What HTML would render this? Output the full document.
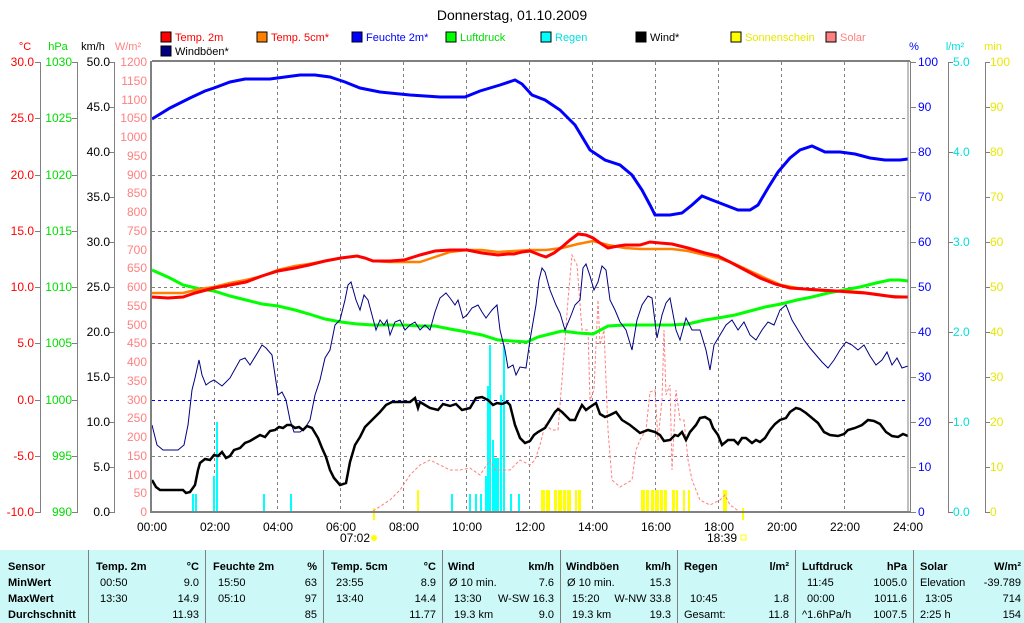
<!DOCTYPE html>
<html><head><meta charset="utf-8"><style>
html,body{margin:0;padding:0;background:#fff;width:1024px;height:623px;overflow:hidden}
svg{display:block;font-family:"Liberation Sans",sans-serif}
</style></head><body>
<svg width="1024" height="623" viewBox="0 0 1024 623" xmlns="http://www.w3.org/2000/svg">
<text x="512" y="20" font-size="14" text-anchor="middle">Donnerstag, 01.10.2009</text>
<g font-size="11">
<rect x="161" y="32" width="10" height="10" fill="#ff0000" stroke="#000"/><text x="175" y="41" fill="#ff0000">Temp. 2m</text>
<rect x="257" y="32" width="10" height="10" fill="#ff8000" stroke="#000"/><text x="271" y="41" fill="#ff0000">Temp. 5cm*</text>
<rect x="352" y="32" width="10" height="10" fill="#0000ff" stroke="#000"/><text x="366" y="41" fill="#0000ff">Feuchte 2m*</text>
<rect x="446" y="32" width="10" height="10" fill="#00ff00" stroke="#000"/><text x="460" y="41" fill="#00dd00">Luftdruck</text>
<rect x="541" y="32" width="10" height="10" fill="#00ffff" stroke="#000"/><text x="555" y="41" fill="#00e0e0">Regen</text>
<rect x="636" y="32" width="10" height="10" fill="#000" stroke="#000"/><text x="650" y="41" fill="#000">Wind*</text>
<rect x="731" y="32" width="10" height="10" fill="#ffff00" stroke="#000"/><text x="745" y="41" fill="#e8e800">Sonnenschein</text>
<rect x="826" y="32" width="10" height="10" fill="#ff8080" stroke="#000"/><text x="840" y="41" fill="#ff8080">Solar</text>
<rect x="161" y="46" width="10" height="10" fill="#000080" stroke="#000"/><text x="175" y="55" fill="#000">Windböen*</text>
</g>
<g font-size="11">
<text x="25" y="50" fill="#ff0000" text-anchor="middle">°C</text>
<text x="58" y="50" fill="#00dd00" text-anchor="middle">hPa</text>
<text x="93" y="50" fill="#000" text-anchor="middle">km/h</text>
<text x="128" y="50" fill="#ff8080" text-anchor="middle">W/m²</text>
<text x="914" y="50" fill="#0000ff" text-anchor="middle">%</text>
<text x="955" y="50" fill="#00e0e0" text-anchor="middle">l/m²</text>
<text x="993" y="50" fill="#e8e800" text-anchor="middle">min</text>
</g>
<g stroke="#808080" stroke-width="1">
<line x1="40.5" y1="62" x2="40.5" y2="512"/>
<line x1="77.5" y1="62" x2="77.5" y2="512"/>
<line x1="114.5" y1="62" x2="114.5" y2="512"/>
<line x1="948.5" y1="62" x2="948.5" y2="512"/>
<line x1="985.5" y1="62" x2="985.5" y2="512"/>
</g>
<g id="ticks" stroke="#808080"></g>
<g id="labels" font-size="12"></g>
<g stroke="#808080" stroke-dasharray="3,3" stroke-width="1">
<line x1="152" y1="118.5" x2="908" y2="118.5"/><line x1="152" y1="175.5" x2="908" y2="175.5"/>
<line x1="152" y1="231.5" x2="908" y2="231.5"/><line x1="152" y1="287.5" x2="908" y2="287.5"/>
<line x1="152" y1="343.5" x2="908" y2="343.5"/><line x1="152" y1="456.5" x2="908" y2="456.5"/>
<line x1="214.5" y1="62" x2="214.5" y2="512"/><line x1="277.5" y1="62" x2="277.5" y2="512"/>
<line x1="340.5" y1="62" x2="340.5" y2="512"/><line x1="403.5" y1="62" x2="403.5" y2="512"/>
<line x1="466.5" y1="62" x2="466.5" y2="512"/><line x1="529.5" y1="62" x2="529.5" y2="512"/>
<line x1="592.5" y1="62" x2="592.5" y2="512"/><line x1="655.5" y1="62" x2="655.5" y2="512"/>
<line x1="718.5" y1="62" x2="718.5" y2="512"/><line x1="781.5" y1="62" x2="781.5" y2="512"/>
<line x1="844.5" y1="62" x2="844.5" y2="512"/>
</g>
<line x1="152" y1="400.5" x2="908" y2="400.5" stroke="#0000ff" stroke-dasharray="3,3"/>
<g fill="#00ffff">
<rect x="192" y="494" width="2" height="18"/><rect x="195" y="494" width="2" height="18"/>
<rect x="213" y="476" width="2" height="36"/><rect x="216" y="422" width="2" height="90"/>
<rect x="263" y="494" width="2" height="18"/><rect x="290" y="494" width="2" height="18"/>
<rect x="451" y="494" width="2" height="18"/><rect x="469" y="494" width="2" height="18"/>
<rect x="475" y="494" width="2" height="18"/><rect x="480" y="494" width="2" height="18"/>
<rect x="485" y="476" width="2" height="36"/><rect x="487" y="386" width="2" height="126"/>
<rect x="489" y="345" width="2" height="167"/><rect x="492" y="440" width="2" height="72"/>
<rect x="494" y="458" width="3" height="54"/><rect x="497" y="458" width="2" height="54"/>
<rect x="500" y="395" width="2" height="117"/><rect x="503" y="345" width="2" height="167"/>
<rect x="510" y="494" width="2" height="18"/><rect x="518" y="494" width="2" height="18"/>
</g>
<g fill="#ffff00">
<rect x="373" y="508" width="2" height="12"/><rect x="417" y="490" width="2" height="22"/>
<rect x="541" y="490" width="4" height="22"/><rect x="546" y="490" width="4" height="22"/>
<rect x="554" y="490" width="3" height="22"/><rect x="558" y="490" width="4" height="22"/>
<rect x="563" y="490" width="3" height="22"/><rect x="567" y="490" width="4" height="22"/>
<rect x="575" y="490" width="2" height="22"/><rect x="578" y="490" width="3" height="22"/>
<rect x="641" y="490" width="4" height="22"/><rect x="646" y="490" width="3" height="22"/>
<rect x="651" y="490" width="3" height="22"/><rect x="655" y="490" width="4" height="22"/>
<rect x="660" y="490" width="3" height="22"/><rect x="664" y="490" width="3" height="22"/>
<rect x="672" y="490" width="3" height="22"/><rect x="676" y="490" width="2" height="22"/>
<rect x="683" y="490" width="2" height="22"/><rect x="688" y="490" width="2" height="22"/>
<rect x="723" y="490" width="4" height="22"/><rect x="742" y="508" width="2" height="12"/>
</g>
<polyline fill="none" stroke="#ff8080" stroke-width="1" stroke-dasharray="3,2" points="373,511 390,500 400,490 410,475 420,465 430,460 440,465 450,470 460,470 470,468 480,475 490,460 495,470 510,470 520,460 530,465 535,460 540,445 545,425 552,430 558,430 562,380 568,300 572,255 577,265 582,330 588,330 590,400 594,390 598,300 600,345 604,330 608,430 612,480 620,487 632,480 636,450 640,440 646,430 650,392 655,390 658,440 662,400 664,330 666,395 670,385 672,470 676,390 680,420 684,420 688,460 692,480 700,500 710,505 720,500 725,495 730,505 740,512"/>
<polyline fill="none" stroke="#0000ff" stroke-width="3" points="152,119 170,108 190,98 205,91 214,88 230,82 245,79 270,79 285,77 300,75 315,75 330,77 345,82 360,88 380,92 410,95 440,97 465,97 480,91 500,85 515,80 522,84 532,95 545,100 560,110 575,125 590,150 605,160 620,165 632,175 642,190 650,205 655,215 670,215 682,213 692,205 702,196 712,200 725,205 738,210 750,210 758,205 768,188 778,172 790,158 800,150 812,146 825,152 840,152 855,154 870,158 885,160 900,160 908,159"/>
<polyline fill="none" stroke="#00ff00" stroke-width="3" points="152,270 170,278 183,285 200,289 214,291 230,296 246,300 262,304 278,306 295,310 309,314 325,319 341,322 357,324 373,325 390,325 404,325 420,326 435,326 450,329 467,332 482,335 498,340 512,341 527,342 538,337 550,334 562,331 578,333 593,334 608,326 625,325 640,325 656,325 672,325 688,324 705,320 718,318 735,315 750,311 765,307 781,304 797,300 812,297 828,293 844,290 860,287 876,283 890,280 900,280 908,281"/>
<polyline fill="none" stroke="#ff8000" stroke-width="2.5" points="152,293 183,293 200,289 214,287 230,283 246,280 262,276 278,270 295,266 309,264 325,261 341,258 357,256 365,258 373,261 390,262 404,262 420,262 435,257 450,252 467,250 482,250 498,252 514,251 530,250 546,250 562,248 578,244 593,241 608,245 625,248 640,249 656,249 672,249 688,251 705,255 718,258 735,264 750,271 765,278 781,285 797,288 812,290 828,291 844,291 860,292 876,294 890,296 908,297"/>
<polyline fill="none" stroke="#ff0000" stroke-width="3" points="152,297 168,298 183,297 195,293 214,288 230,285 246,282 262,276 278,271 295,268 309,265 325,261 341,258 357,256 365,258 373,261 390,261 404,260 420,255 435,251 450,250 467,250 482,253 498,255 508,254 514,254 522,252 530,251 540,255 546,257 554,253 562,247 570,240 578,234 586,235 593,238 600,243 608,248 618,246 625,245 640,245 650,242 660,243 672,244 688,248 705,253 718,256 730,262 745,270 760,278 775,284 790,288 805,289 820,290 836,291 850,292 865,293 880,295 895,297 908,297"/>
<polyline fill="none" stroke="#000080" stroke-width="1" points="152,425 157,445 163,450 170,450 178,450 184,445 188,425 192,390 195,378 199,360 202,375 206,385 210,382 214,380 218,383 222,386 230,378 240,360 245,358 250,365 258,352 262,345 266,348 272,355 278,395 282,392 286,400 290,420 294,432 300,432 305,428 310,420 315,395 320,380 325,358 330,350 335,325 340,320 345,300 348,285 351,282 356,300 360,310 364,295 368,300 372,315 376,330 380,320 384,325 387,320 390,335 395,322 400,320 405,330 410,325 415,322 420,330 425,325 430,330 435,312 440,298 446,293 450,298 455,305 458,300 463,318 467,315 472,308 478,305 482,312 486,318 492,310 497,305 500,330 505,350 508,368 513,365 516,375 520,367 526,368 530,340 536,305 539,280 542,268 545,272 550,290 556,305 560,313 565,330 570,318 575,305 580,300 583,268 586,264 590,276 594,290 598,282 602,266 606,270 610,300 615,310 620,322 626,330 632,350 637,320 642,305 648,296 652,298 657,338 662,315 666,303 670,298 676,330 680,340 686,318 692,330 700,330 706,350 710,370 714,345 720,335 726,325 732,320 738,330 744,322 750,335 756,340 762,330 768,322 774,325 780,310 786,305 792,320 798,330 804,340 810,348 816,355 822,362 828,368 834,360 840,350 846,342 852,345 858,350 864,345 870,356 876,365 882,360 887,352 892,365 897,358 902,368 908,366"/>
<polyline fill="none" stroke="#000" stroke-width="2.5" points="152,480 156,487 160,490 175,490 183,490 186,493 190,492 195,485 198,470 200,463 205,459 210,460 214,455 218,456 222,452 226,458 230,456 234,450 240,448 245,443 250,441 255,438 260,435 265,437 270,431 275,430 279,427 283,428 287,425 291,425 295,428 299,427 303,430 307,426 312,428 318,438 322,448 326,457 330,470 334,478 340,485 346,483 350,462 355,445 360,437 365,427 372,420 380,412 386,405 392,402 400,402 410,402 415,398 418,408 420,402 425,405 430,408 438,410 443,404 450,406 456,404 462,410 470,408 476,398 482,397 488,400 493,405 497,403 502,404 507,402 510,405 515,425 520,438 525,443 530,441 534,435 538,432 545,428 550,420 555,412 558,409 562,412 567,417 570,420 575,420 578,413 582,405 586,410 590,407 596,403 600,414 605,417 610,415 616,412 622,420 630,425 640,433 648,430 655,432 660,435 664,441 670,440 675,435 678,436 682,432 686,440 690,432 696,425 700,418 705,417 710,420 713,428 718,435 722,445 728,440 734,440 738,444 742,438 746,438 752,443 756,440 760,442 765,438 770,430 775,424 780,420 786,418 790,412 796,408 800,409 806,413 812,418 818,423 824,432 830,435 838,436 844,434 848,430 855,428 862,425 868,420 874,421 880,424 886,432 892,436 898,437 903,434 908,436"/>
<g stroke="#808080" fill="none">
<line x1="152" y1="61" x2="910" y2="61" stroke-width="2"/>
<line x1="151" y1="61" x2="151" y2="513" stroke-width="2"/>
<line x1="151" y1="512" x2="910" y2="512" stroke-width="2"/>
<line x1="908" y1="61" x2="908" y2="513" stroke-width="1"/>
<line x1="910.5" y1="61" x2="910.5" y2="513" stroke-width="1"/>
</g>
<g font-size="12" text-anchor="middle">
<text x="152" y="531">00:00</text><text x="215" y="531">02:00</text><text x="278" y="531">04:00</text>
<text x="341" y="531">06:00</text><text x="404" y="531">08:00</text><text x="467" y="531">10:00</text>
<text x="530" y="531">12:00</text><text x="593" y="531">14:00</text><text x="656" y="531">16:00</text>
<text x="719" y="531">18:00</text><text x="782" y="531">20:00</text><text x="845" y="531">22:00</text>
<text x="908" y="531">24:00</text>
<text x="355" y="542">07:02</text><text x="722" y="542">18:39</text>
</g>
<circle cx="374" cy="538" r="3" fill="#ffff00"/>
<rect x="741" y="535" width="5" height="5" fill="none" stroke="#ffff00"/>
<rect x="0" y="550" width="1024" height="73" fill="#ccf8f8"/>
<g stroke="#808080" stroke-width="1">
<line x1="88.5" y1="550" x2="88.5" y2="623"/><line x1="205.5" y1="550" x2="205.5" y2="623"/>
<line x1="323.5" y1="550" x2="323.5" y2="623"/><line x1="442.5" y1="550" x2="442.5" y2="623"/>
<line x1="560.5" y1="550" x2="560.5" y2="623"/><line x1="677.5" y1="550" x2="677.5" y2="623"/>
<line x1="795.5" y1="550" x2="795.5" y2="623"/><line x1="913.5" y1="550" x2="913.5" y2="623"/>
</g>
<g font-size="11" font-weight="bold">
<text x="8" y="570">Sensor</text><text x="8" y="586">MinWert</text><text x="8" y="602">MaxWert</text><text x="8" y="618">Durchschnitt</text>
<text x="96" y="570">Temp. 2m</text><text x="199" y="570" text-anchor="end">°C</text>
<text x="213" y="570">Feuchte 2m</text><text x="317" y="570" text-anchor="end">%</text>
<text x="331" y="570">Temp. 5cm</text><text x="436" y="570" text-anchor="end">°C</text>
<text x="448" y="570">Wind</text><text x="554" y="570" text-anchor="end">km/h</text>
<text x="566" y="570">Windböen</text><text x="671" y="570" text-anchor="end">km/h</text>
<text x="684" y="570">Regen</text><text x="789" y="570" text-anchor="end">l/m²</text>
<text x="802" y="570">Luftdruck</text><text x="907" y="570" text-anchor="end">hPa</text>
<text x="920" y="570">Solar</text><text x="1021" y="570" text-anchor="end">W/m²</text>
</g>
<g font-size="11">
<text x="100" y="586">00:50</text><text x="199" y="586" text-anchor="end">9.0</text>
<text x="100" y="602">13:30</text><text x="199" y="602" text-anchor="end">14.9</text>
<text x="199" y="618" text-anchor="end">11.93</text>
<text x="218" y="586">15:50</text><text x="317" y="586" text-anchor="end">63</text>
<text x="218" y="602">05:10</text><text x="317" y="602" text-anchor="end">97</text>
<text x="317" y="618" text-anchor="end">85</text>
<text x="336" y="586">23:55</text><text x="436" y="586" text-anchor="end">8.9</text>
<text x="336" y="602">13:40</text><text x="436" y="602" text-anchor="end">14.4</text>
<text x="436" y="618" text-anchor="end">11.77</text>
<text x="449" y="586">Ø 10 min.</text><text x="554" y="586" text-anchor="end">7.6</text>
<text x="454" y="602">13:30</text><text x="554" y="602" text-anchor="end">W-SW 16.3</text>
<text x="454" y="618">19.3 km</text><text x="554" y="618" text-anchor="end">9.0</text>
<text x="567" y="586">Ø 10 min.</text><text x="671" y="586" text-anchor="end">15.3</text>
<text x="572" y="602">15:20</text><text x="671" y="602" text-anchor="end">W-NW 33.8</text>
<text x="572" y="618">19.3 km</text><text x="671" y="618" text-anchor="end">19.3</text>
<text x="690" y="602">10:45</text><text x="789" y="602" text-anchor="end">1.8</text>
<text x="684" y="618">Gesamt:</text><text x="789" y="618" text-anchor="end">11.8</text>
<text x="807" y="586">11:45</text><text x="907" y="586" text-anchor="end">1005.0</text>
<text x="807" y="602">00:00</text><text x="907" y="602" text-anchor="end">1011.6</text>
<text x="802" y="618">^1.6hPa/h</text><text x="907" y="618" text-anchor="end">1007.5</text>
<text x="920" y="586">Elevation</text><text x="1021" y="586" text-anchor="end">-39.789</text>
<text x="925" y="602">13:05</text><text x="1021" y="602" text-anchor="end">714</text>
<text x="920" y="618">2:25 h</text><text x="1021" y="618" text-anchor="end">154</text>
</g>
</svg>
<script>
(function(){
var NS="http://www.w3.org/2000/svg",L=document.getElementById("labels"),T=document.getElementById("ticks");
function t(x,y,s,c,a){var e=document.createElementNS(NS,"text");e.setAttribute("x",x);e.setAttribute("y",y+4);e.setAttribute("fill",c);e.setAttribute("text-anchor",a||"end");e.textContent=s;L.appendChild(e);}
function k(x1,x2,y){var e=document.createElementNS(NS,"line");e.setAttribute("x1",x1);e.setAttribute("x2",x2);e.setAttribute("y1",y+.5);e.setAttribute("y2",y+.5);T.appendChild(e);}
for(var i=0;i<=8;i++){var y=Math.round(62+i*56.25);t(34,y,(30-5*i).toFixed(1),"#ff0000");k(35,41,y);t(72,y,String(1030-5*i),"#00dd00");k(72,78,y);}
for(i=0;i<=10;i++){y=62+i*45;t(110,y,(50-5*i).toFixed(1),"#000");k(109,115,y);t(918,y,String(100-10*i),"#0000ff","start");k(910,916,y);t(990,y,String(100-10*i),"#e8e800","start");k(985,990,y);}
for(i=0;i<=24;i++){y=Math.round(62+i*18.75);t(147,y,String(1200-50*i),"#ff8080");}
for(i=0;i<=5;i++){y=62+i*90;t(953,y,(5-i).toFixed(1),"#00e0e0","start");k(948,953,y);}
})();
</script>
</body></html>
